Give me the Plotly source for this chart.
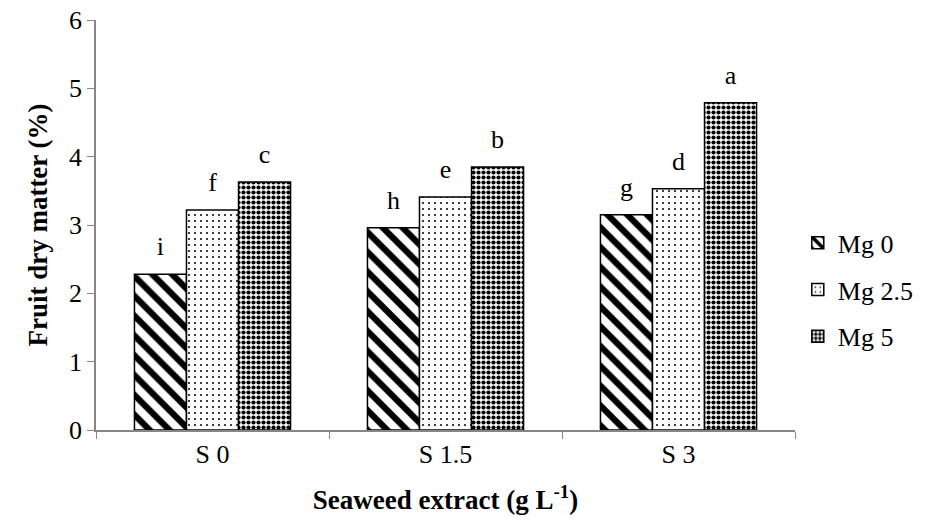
import plotly.graph_objects as go

categories = ["S 0", "S 1.5", "S 3"]
series_names = ["Mg 0", "Mg 2.5", "Mg 5"]
mg0 = [2.28, 2.96, 3.15]
mg25 = [3.22, 3.41, 3.53]
mg5 = [3.63, 3.85, 4.79]
letters_mg0 = ["i", "h", "g"]
letters_mg25 = ["f", "e", "d"]
letters_mg5 = ["c", "b", "a"]
y_ticks = [0, 1, 2, 3, 4, 5, 6]

FONT = "Liberation Serif"
patterns = [
    dict(shape="\\", size=14, solidity=0.45, fgcolor="black", bgcolor="white", fillmode="replace"),
    dict(shape=".", size=6, solidity=0.09, fgcolor="black", bgcolor="white", fillmode="replace"),
    dict(shape=".", size=5, solidity=0.55, fgcolor="black", bgcolor="white", fillmode="replace"),
]

fig = go.Figure()
all_vals = [mg0, mg25, mg5]
all_lets = [letters_mg0, letters_mg25, letters_mg5]
for i, (name, vals, pat) in enumerate(zip(series_names, all_vals, patterns)):
    fig.add_trace(go.Bar(
        x=categories, y=vals, name=name, legendgroup=name,
        offsetgroup=str(i),
        marker=dict(color="white", pattern=pat, line=dict(color="black", width=1.5)),
    ))
for i, (name, vals, lets) in enumerate(zip(series_names, all_vals, all_lets)):
    fig.add_trace(go.Scatter(
        x=categories, y=vals, mode="markers+text", text=lets,
        textposition="top center", showlegend=False, hoverinfo="skip",
        offsetgroup=str(i), cliponaxis=False,
        marker=dict(size=18, color="rgba(0,0,0,0)"),
        textfont=dict(family=FONT, size=26, color="black"),
    ))

fig.update_layout(
    width=938, height=522,
    margin=dict(l=96, r=143, t=20, b=92),
    paper_bgcolor="white", plot_bgcolor="white",
    barmode="group", bargap=0.33, bargroupgap=0,
    scattermode="group", scattergap=0.33,
    font=dict(family=FONT, size=26, color="black"),
    showlegend=True,
    legend=dict(x=1.004, y=0.342, xanchor="left", yanchor="middle",
                font=dict(family=FONT, size=26, color="black"),
                traceorder="grouped", tracegroupgap=10,
                itemwidth=30, bgcolor="rgba(0,0,0,0)"),
)
fig.update_xaxes(
    showline=True, linecolor="#868686", linewidth=1.5,
    ticks="outside", tickson="boundaries", ticklen=7, tickcolor="#868686",
    showgrid=False, automargin=False,
    tickfont=dict(family=FONT, size=26, color="black"),
    title=dict(text="<b>Seaweed extract (g L<sup>-1</sup>)</b>",
               font=dict(family=FONT, size=27, color="black"), standoff=22),
)
fig.update_yaxes(
    range=[0, 6], tickvals=y_ticks,
    showline=True, linecolor="#868686", linewidth=1.5,
    ticks="outside", ticklen=7, tickcolor="#868686",
    showgrid=False, zeroline=False, automargin=False,
    tickfont=dict(family=FONT, size=26, color="black"),
    title=dict(text="<b>Fruit dry matter (%)</b>",
               font=dict(family=FONT, size=27, color="black"), standoff=14),
)

fig.write_html("out.html", config={"displayModeBar": False},
               post_script="document.body.style.margin='0';")
